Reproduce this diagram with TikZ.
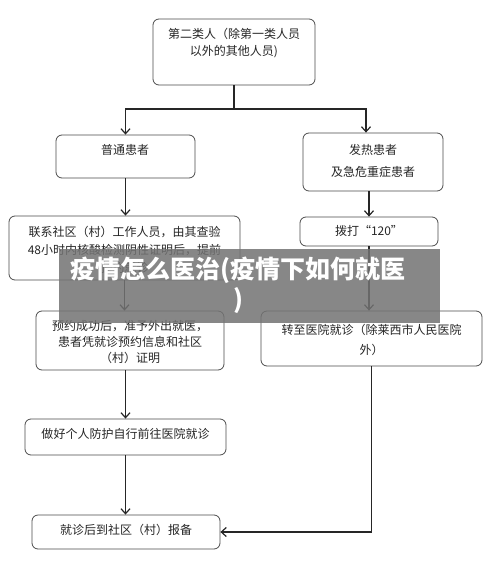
\documentclass[tikz,border=0pt]{standalone}
\usepackage{fontspec}
\setmainfont{Noto Sans CJK SC}
\usetikzlibrary{arrows.meta}
\begin{document}
\begin{tikzpicture}[x=1pt,y=-1pt,
  box/.style={draw=black!70, rounded corners=6pt, line width=0.8pt, inner sep=0pt},
  txt/.style={font=\fontsize{12}{16}\selectfont, align=center, inner sep=0pt, text=black!85},
  arr/.style={line width=1.4pt, black!85, -{Straight Barb[length=5pt,width=9pt,line width=1.2pt]}},
  ln/.style={line width=1.4pt, black!85}]
\useasboundingbox (0,0) rectangle (500,573);
\fill[white] (0,0) rectangle (500,573);
% boxes
\node[box, minimum width=162pt, minimum height=66pt] (top) at (234,52) {};
\node[box, minimum width=139pt, minimum height=43pt] (pt) at (125.5,156.5) {};
\node[box, minimum width=140pt, minimum height=58pt] (fr) at (373,162) {};
\node[box, minimum width=231pt, minimum height=64pt] (lx) at (124.5,248) {};
\node[box, minimum width=138pt, minimum height=29pt] (bd) at (369,231.5) {};
\node[box, minimum width=188pt, minimum height=59pt] (yy) at (130,340.5) {};
\node[box, minimum width=221pt, minimum height=55pt] (zz) at (371.5,338.5) {};
\node[box, minimum width=201pt, minimum height=36pt] (zh) at (125.5,437) {};
\node[box, minimum width=188pt, minimum height=34pt] (jz) at (126,532) {};
% texts
\node[txt, font=\fontsize{12}{17}\selectfont] (ttop) at (234,43.5) {第二类人（除第一类人员\\以外的其他人员)};
\node[txt] (tpt) at (125,150) {普通患者};
\node[txt, font=\fontsize{12}{22}\selectfont] (tfr) at (373,161) {发热患者\\及急危重症患者};
\node[txt, font=\fontsize{12}{18}\selectfont] (tlx) at (124.5,250) {联系社区（村）工作人员，由其查验\\48小时内核酸检测阴性证明后，提前\\预约就诊};
\node[txt] (tbd) at (369,231) {拨打“120”};
\node[txt, font=\fontsize{12}{16}\selectfont] (tyy) at (130,342) {预约成功后，准予外出就医，\\患者凭就诊预约信息和社区\\（村）证明};
\node[txt, font=\fontsize{12}{20}\selectfont] (tzz) at (371.5,340) {转至医院就诊（除莱西市人民医院\\外）};
\node[txt] (tzh) at (125.5,434) {做好个人防护自行前往医院就诊};
\node[txt] (tjz) at (126,530) {就诊后到社区（村）报备};
% connectors
\coordinate (j) at (234,109);
\draw[ln] (top.south) -- (j);
\draw[arr] (j) -| (pt.north);
\draw[arr] (j) -| ([xshift=-7pt]fr.north);
\draw[arr] (pt.south) -- (pt.south |- lx.north);
\draw[arr] (bd.north |- fr.south) -- (bd.north);
\draw[arr] (lx.south) -- (lx.south |- yy.north);
\draw[arr] (bd.south) -- (bd.south |- zz.north);
\draw[arr] (zh.north |- yy.south) -- (zh.north);
\draw[arr] (zh.south) -- (zh.south |- jz.north);
\draw[arr] (zz.south) -- (zz.south |- jz.east) -- (jz.east);
% banner
\node[fill=black!55, fill opacity=0.85, minimum width=381pt, minimum height=74pt, inner sep=0pt] (ban) at (249.5,286) {};
\node[font=\fontsize{25}{30}\selectfont\bfseries, text=white, align=center, inner sep=0pt] (tban) at (238,285) {疫情怎么医治(疫情下如何就医\\)};
\end{tikzpicture}
\end{document}
